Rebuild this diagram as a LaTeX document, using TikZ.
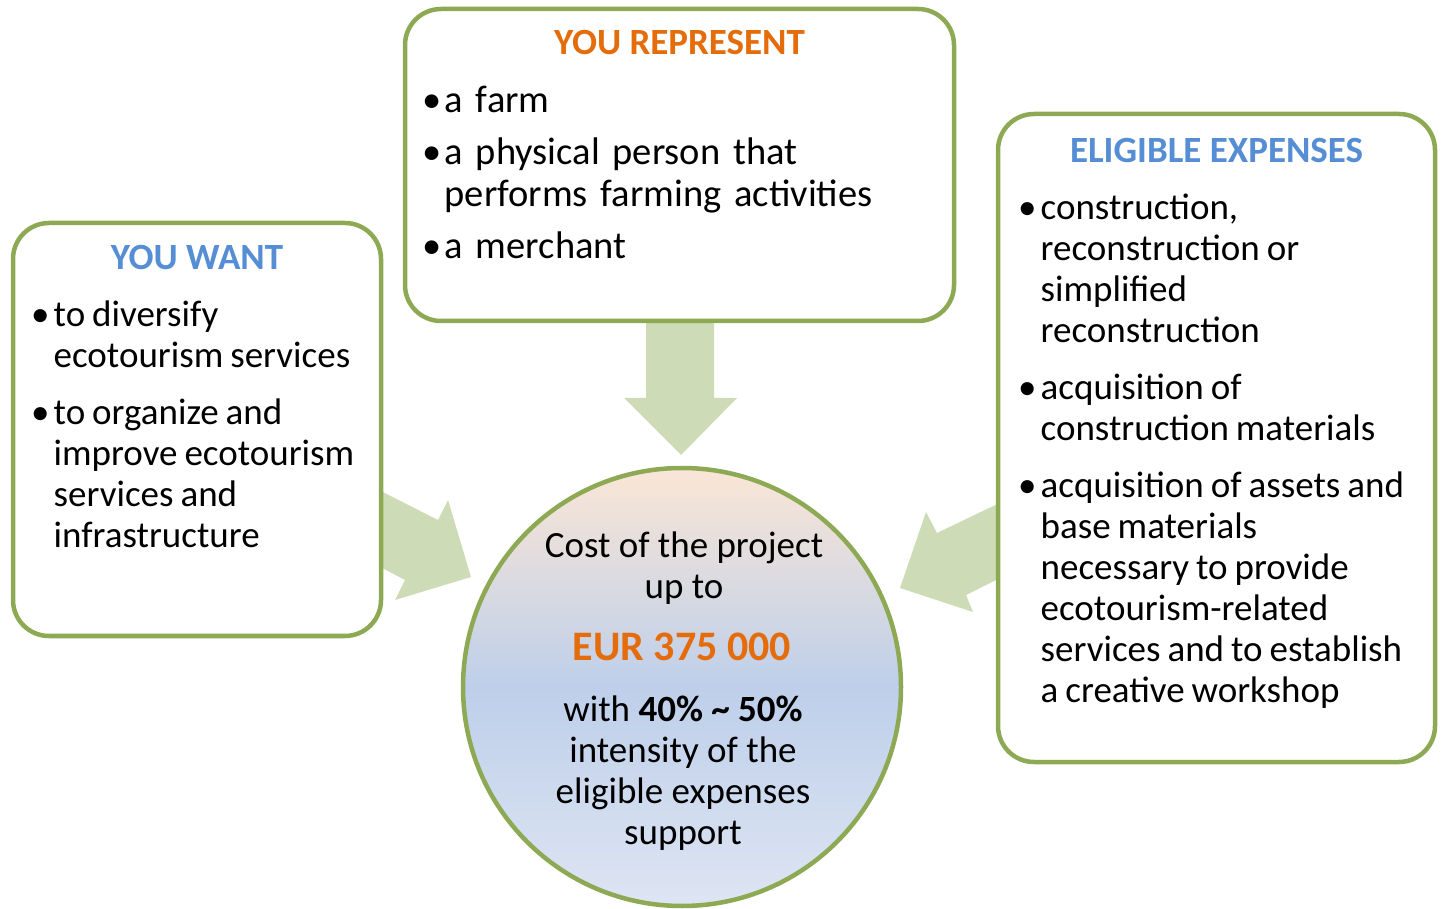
\documentclass[tikz,border=0pt]{standalone}
\usepackage{fontspec}
\setmainfont{Carlito}
\usetikzlibrary{positioning,backgrounds}
\definecolor{boxgreen}{RGB}{142,169,83}
\definecolor{arrowgreen}{RGB}{205,219,182}
\definecolor{headorange}{RGB}{228,108,10}
\definecolor{headblue}{RGB}{85,142,213}
\definecolor{topcirc}{RGB}{250,230,214}
\definecolor{midcirc}{RGB}{190,207,234}
\definecolor{botcirc}{RGB}{222,229,243}
\newcommand{\bitem}[1]{\hangindent=22.5pt\hangafter=1\noindent\makebox[22.5pt][l]{\textbullet}#1\par}
\begin{document}
\begin{tikzpicture}[x=1pt,y=1pt,
	box/.style={draw=boxgreen,line width=4.5pt,rounded corners=36pt,fill=white,inner sep=0pt},
	head/.style={font=\fontsize{37}{41}\selectfont\bfseries,anchor=base,inner sep=0pt},
	items/.style={font=\fontsize{37}{41}\selectfont,text width=600pt,align=left,anchor=north west,inner sep=0pt},
	circtext/.style={font=\fontsize{37}{41}\selectfont,align=center,inner sep=0pt}]
	\useasboundingbox (0,0) rectangle (1442,908);
	% the three boxes
	\node (want) [box,minimum width=368,minimum height=413] at (197,478.5) {};
	\node (repr) [box,minimum width=549,minimum height=312] at (679.5,743) {};
	\node (elig) [box,minimum width=437,minimum height=648] at (1216.5,470) {};
	\node (cost) [circle,draw=boxgreen,line width=4.5pt,minimum size=438,
		top color=topcirc,bottom color=botcirc,middle color=midcirc] at (682,221) {};
	% block arrows behind the boxes
	\begin{scope}[on background layer]
		\fill[arrowgreen] (646,595) -- (646,510) -- (624,510) -- (681,453)
			-- (737,510) -- (714,510) -- (714,595) -- cycle;
		\fill[arrowgreen] (365,425) -- (438,388) -- (448,408) -- (471,331)
			-- (395,308) -- (405,328) -- (365,349) -- cycle;
		\fill[arrowgreen] (1012,411) -- (937,375) -- (926,396) -- (900,320)
			-- (973,296) -- (966,313) -- (1012,336) -- cycle;
	\end{scope}
	% titles
	\node (wanthead) [head,text=headblue] at (197,638) {YOU WANT};
	\node (reprhead) [head,text=headorange] at (679.5,853) {YOU REPRESENT};
	\node (elighead) [head,text=headblue] at (1216.5,745) {ELIGIBLE EXPENSES};
	% lists
	\node (wantlist) [items] at (31,607) {\setlength{\parskip}{16pt}\spaceskip=7pt%
		\bitem{to diversify\newline ecotourism services}
		\bitem{to organize and\newline improve ecotourism\newline services and\newline infrastructure}};
	\node (reprlist) [items,font=\fontsize{38.5}{42}\selectfont] at (422,822) {\setlength{\parskip}{10pt}%
		\bitem{a farm}
		\bitem{a physical person that\newline performs farming activities}
		\bitem{a merchant}};
	\node (eliglist) [items] at (1018,714) {\setlength{\parskip}{16pt}\spaceskip=7pt%
		\bitem{construction,\newline reconstruction or\newline simplified\newline reconstruction}
		\bitem{acquisition of\newline construction materials}
		\bitem{acquisition of assets and\newline base materials\newline necessary to provide\newline ecotourism-related\newline services and to establish\newline a creative workshop}};
	% text in the circle
	\node (costtxt) [circtext] at (684,340) {Cost of the project\\up to};
	\node (eurtxt) [font=\fontsize{42}{46}\selectfont\bfseries,text=headorange,inner sep=0pt] at (682,261.5) {EUR 375 000};
	\node (withtxt) [circtext] at (683,135) {with \textbf{40\% \textasciitilde{} 50\%}\\intensity of the\\eligible expenses\\support};
\end{tikzpicture}
\end{document}
